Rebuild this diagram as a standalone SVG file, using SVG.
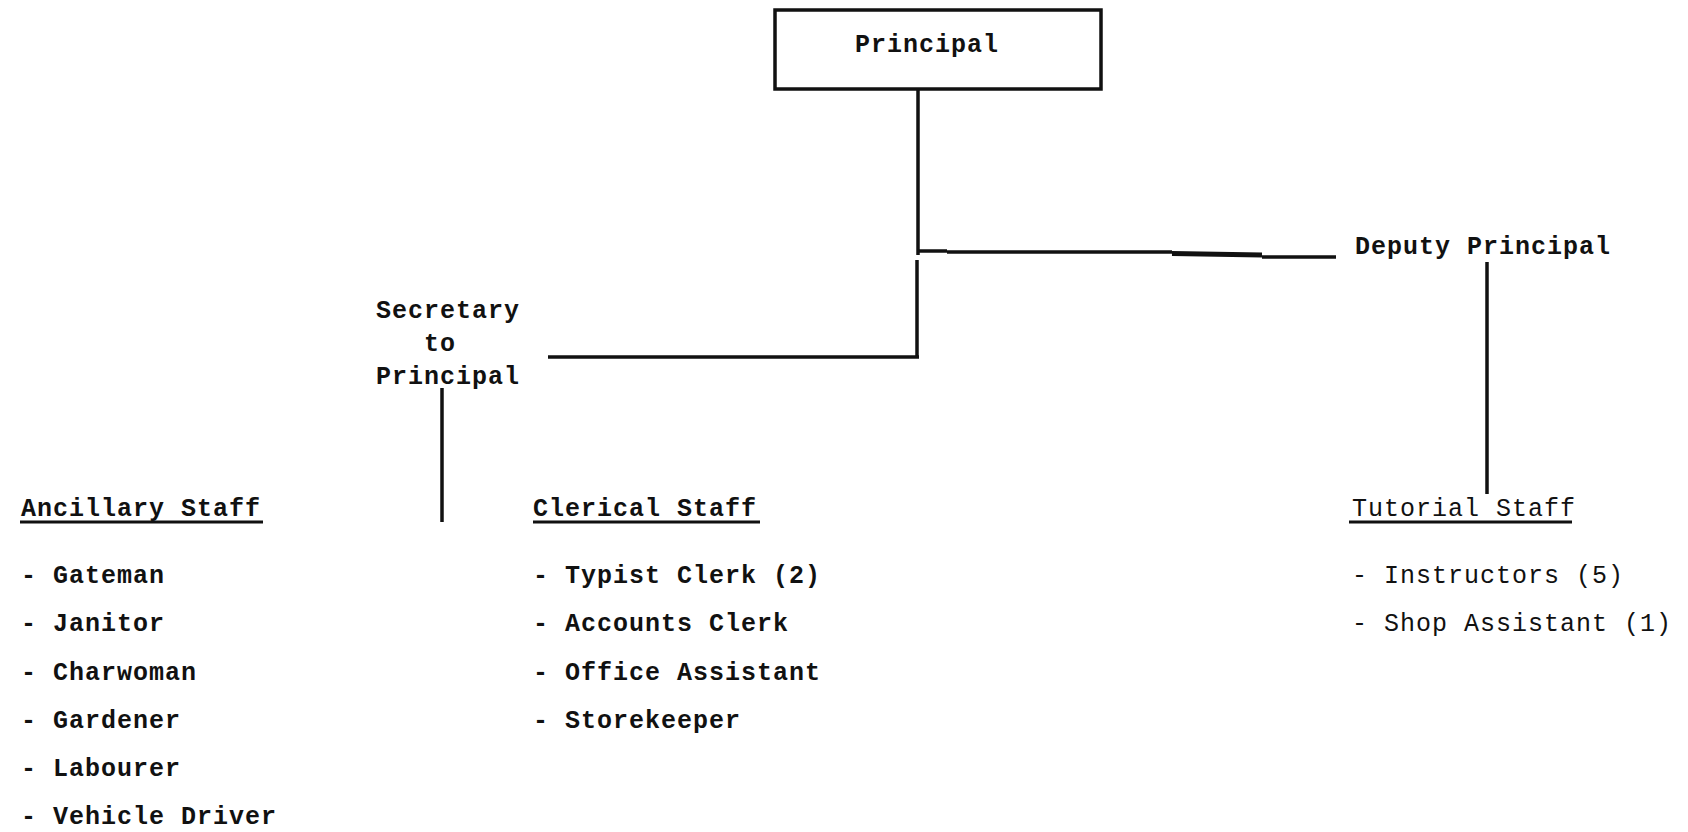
<svg xmlns="http://www.w3.org/2000/svg" width="1688" height="832" viewBox="0 0 1688 832">
  <style>
    .t { font-family: "Liberation Mono", "DejaVu Sans Mono", monospace; font-size: 25px; font-weight: bold; letter-spacing: 1px; fill: #111; }
    .lt { font-weight: normal; }
    .ln { stroke: #111; stroke-width: 3.5; fill: none; stroke-linecap: butt; }
    .ul { stroke: #111; stroke-width: 3; fill: none; }
    .box { stroke: #111; stroke-width: 3.5; fill: #fff; }
  </style>
  <rect width="1688" height="832" fill="#fff"/>

  <!-- connectors -->
  <g id="connectors">
    <path class="ln" d="M918 89 V255"/>
    <path class="ln" d="M917 260 V357"/>
    <path class="ln" d="M548 357 H919"/>
    <path class="ln" d="M918 251 H947"/>
    <path class="ln" d="M947 252 H1172"/>
    <path class="ln" d="M1172 253.5 L1262 255" style="stroke-width:5"/>
    <path class="ln" d="M1262 257 L1336 257"/>
    <path class="ln" d="M1487 262 V494"/>
    <path class="ln" d="M442 388 V522"/>
  </g>

  <g id="principal">
    <rect class="box" x="775" y="10" width="326" height="79"/>
    <text class="t" x="855" y="52">Principal</text>
  </g>

  <g id="deputy-principal">
    <text class="t" x="1355" y="254">Deputy Principal</text>
  </g>

  <g id="secretary">
    <text class="t" x="376" y="318">Secretary</text>
    <text class="t" x="424" y="351">to</text>
    <text class="t" x="376" y="384">Principal</text>
  </g>

  <g id="ancillary-staff">
    <text class="t" x="21" y="516">Ancillary Staff</text>
    <path class="ul" d="M20 522 H263"/>
    <text class="t" x="21" y="583">- Gateman</text>
    <text class="t" x="21" y="631">- Janitor</text>
    <text class="t" x="21" y="680">- Charwoman</text>
    <text class="t" x="21" y="728">- Gardener</text>
    <text class="t" x="21" y="776">- Labourer</text>
    <text class="t" x="21" y="824">- Vehicle Driver</text>
  </g>

  <g id="clerical-staff">
    <text class="t" x="533" y="516">Clerical Staff</text>
    <path class="ul" d="M533 522 H760"/>
    <text class="t" x="533" y="583">- Typist Clerk (2)</text>
    <text class="t" x="533" y="631">- Accounts Clerk</text>
    <text class="t" x="533" y="680">- Office Assistant</text>
    <text class="t" x="533" y="728">- Storekeeper</text>
  </g>

  <g id="tutorial-staff">
    <text class="t lt" x="1352" y="516">Tutorial Staff</text>
    <path class="ul" d="M1349 522 H1572"/>
    <text class="t lt" x="1352" y="583">- Instructors (5)</text>
    <text class="t lt" x="1352" y="631">- Shop Assistant (1)</text>
  </g>
</svg>
